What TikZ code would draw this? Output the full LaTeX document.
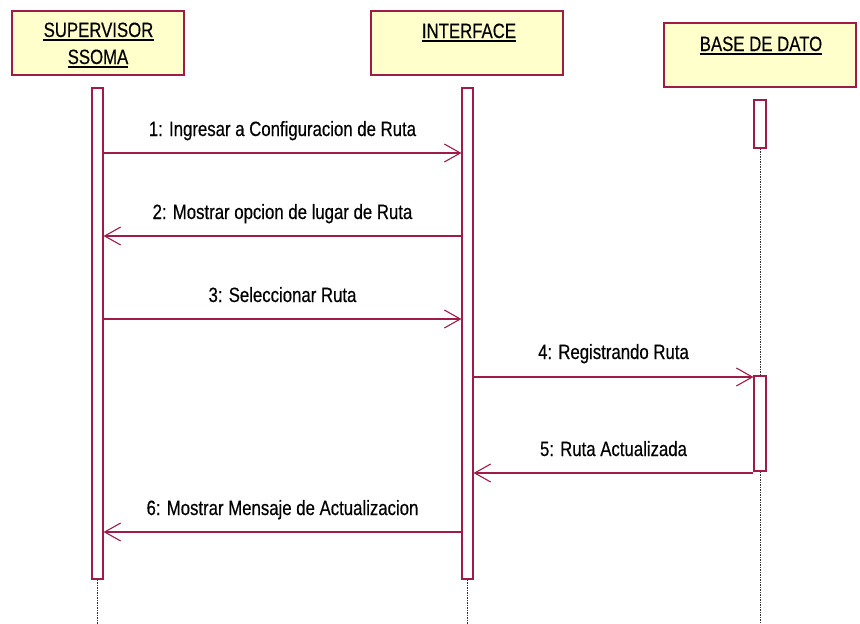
\documentclass[tikz,border=0pt]{standalone}
\usepackage{fontspec}
\usetikzlibrary{arrows.meta}
\newfontfamily\dfont[FakeStretch=0.81, FakeBold=0.4]{Liberation Sans}
\definecolor{rosered}{RGB}{160,28,72}
\definecolor{roseyellow}{RGB}{255,255,204}
\definecolor{lifegray}{RGB}{50,50,50}
\begin{document}
\begin{tikzpicture}[x=1pt,y=-1pt,
  every node/.style={font=\dfont\fontsize{20.7}{27}\selectfont, text=black},
  objbox/.style={draw=rosered, fill=roseyellow, line width=1.2pt, minimum height=64pt, inner sep=0pt},
  objname/.style={anchor=base, inner sep=0pt},
  uline/.style={line width=1.2pt, black},
  actbar/.style={draw=rosered, fill=white, line width=1.1pt, minimum width=11pt, inner sep=0pt},
  lifeline/.style={lifegray, line width=0.9pt, dash pattern=on 1.5pt off 1pt},
  msg/.style={rosered, line width=1.2pt, -{Straight Barb[length=16pt, width=18pt, line width=1.1pt]}},
  msglabel/.style={anchor=base, inner sep=0pt, yshift=17pt}
]
\useasboundingbox (0,0) rectangle (860,624);

% object boxes
\node[objbox, minimum width=172pt] (supbox) at (98,43) {};
\node[objbox, minimum width=192pt] (intbox) at (467,43) {};
\node[objbox, minimum width=192pt] (dbbox) at (760,55) {};

% object names, underlined
\node[objname] (sup1) at (98.5,37) {SUPERVISOR\ };
\node[objname] (sup2) at (98,64) {SSOMA};
\node[objname] (int1) at (469,38) {INTERFACE};
\node[objname] (db1) at (761,51) {BASE DE DATO};
\foreach \n in {sup1,sup2,int1,db1}
  \draw[uline] ([yshift=-3pt]\n.base west) -- ([yshift=-3pt]\n.base east);

% activation bars
\node[actbar, minimum height=491pt] (bar1) at (97.5,333.5) {};
\node[actbar, minimum height=491pt] (bar2) at (467.5,333.5) {};
\node[actbar, minimum width=12pt, minimum height=48pt] (bar3a) at (760,124) {};
\node[actbar, minimum width=12pt, minimum height=95pt] (bar3b) at (760,423.5) {};

% lifelines
\coordinate (end1) at (bar1.south |- 0,624);
\coordinate (end2) at (bar2.south |- 0,624);
\coordinate (end3) at (bar3b.south |- 0,624);
\draw[lifeline] (bar1.south) -- (end1);
\draw[lifeline] (bar2.south) -- (end2);
\draw[lifeline] (bar3a.south) -- (bar3b.north);
\draw[lifeline] (bar3b.south) -- (end3);

% messages
\draw[msg] (bar1.east |- 0,153) -- node[msglabel] (m1) {1: Ingresar a Configuracion de Ruta} (bar2.west |- 0,153);
\draw[msg] (bar2.west |- 0,236) -- node[msglabel] (m2) {2: Mostrar opcion de lugar de Ruta} (bar1.east |- 0,236);
\draw[msg] (bar1.east |- 0,319) -- node[msglabel] (m3) {3: Seleccionar Ruta} (bar2.west |- 0,319);
\draw[msg] (bar2.east |- 0,377) -- node[msglabel, yshift=1pt] (m4) {4: Registrando Ruta} (bar3b.west |- 0,377);
\draw[msg] (bar3b.west |- 0,473) -- node[msglabel] (m5) {5: Ruta Actualizada} (bar2.east |- 0,473);
\draw[msg] (bar2.west |- 0,532) -- node[msglabel] (m6) {6: Mostrar Mensaje de Actualizacion} (bar1.east |- 0,532);
\end{tikzpicture}
\end{document}
